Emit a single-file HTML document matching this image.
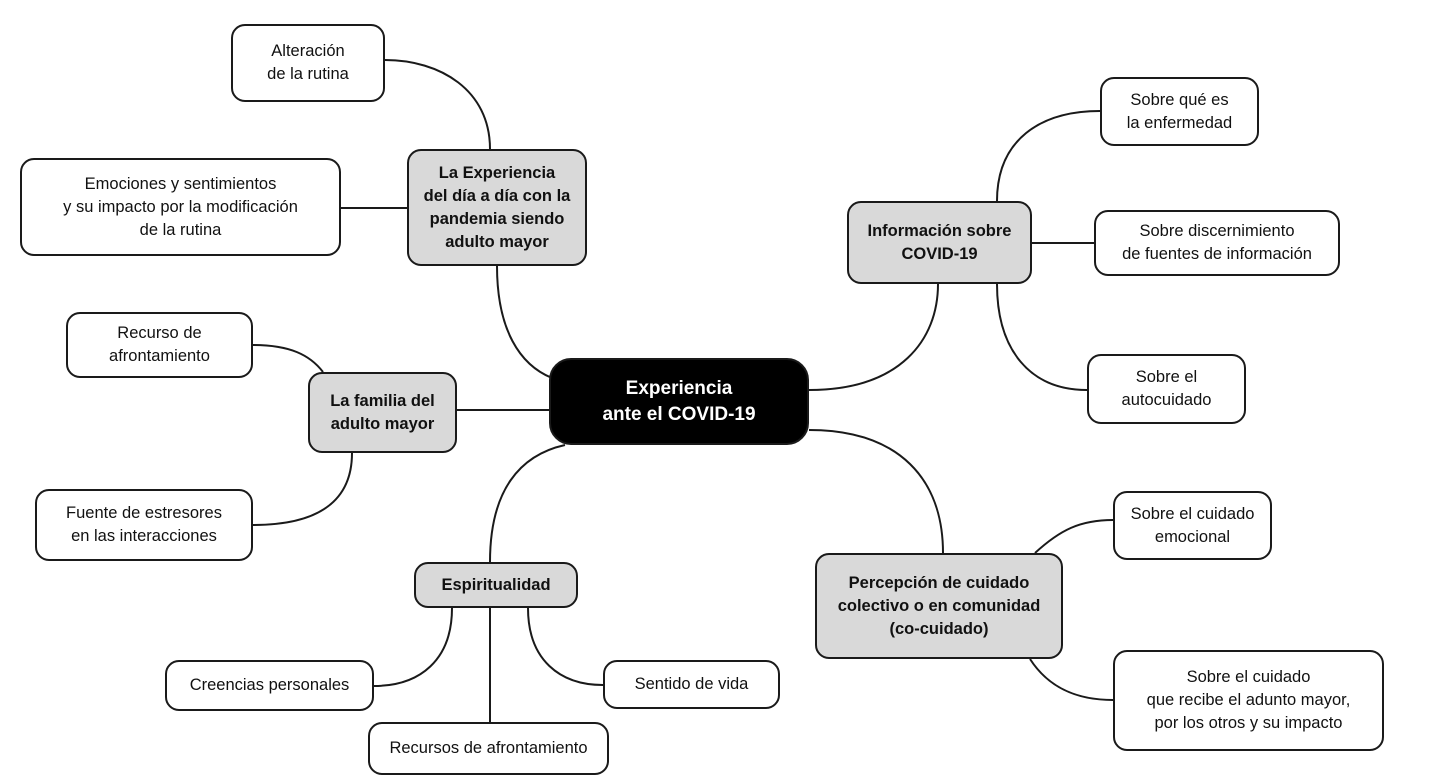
<!DOCTYPE html>
<html><head><meta charset="utf-8"><style>
html,body{margin:0;padding:0;background:#fff;}
body{width:1431px;height:783px;position:relative;overflow:hidden;font-family:"Liberation Sans",sans-serif;}
.b{position:absolute;box-sizing:border-box;border:2px solid #1a1a1a;border-radius:14px;background:#fff;display:flex;align-items:center;justify-content:center;text-align:center;font-size:16.5px;line-height:23px;color:#111;}
.g{background:#d9d9d9;font-weight:bold;}
.c{background:#000;color:#fff;font-weight:bold;font-size:19px;line-height:26px;border-radius:22px;}
svg{position:absolute;left:0;top:0;}
</style></head><body>
<svg width="1431" height="783" fill="none" stroke="#1a1a1a" stroke-width="2">
<path d="M490,149 C490,90 440,60 385,60"/>
<path d="M341,208 L407,208"/>
<path d="M497,266 C497,330 520,365 552,378"/>
<path d="M323,372 C310,355 290,345 253,345"/>
<path d="M457,410 L549,410"/>
<path d="M352,453 C352,500 320,525 253,525"/>
<path d="M565,445 C520,455 490,490 490,562"/>
<path d="M490,608 L490,722"/>
<path d="M452,608 C452,660 420,686 374,686"/>
<path d="M528,608 C528,660 560,685 603,685"/>
<path d="M809,390 C900,390 938,340 938,284"/>
<path d="M997,201 C997,140 1040,111 1100,111"/>
<path d="M1032,243 L1094,243"/>
<path d="M997,284 C997,350 1030,390 1087,390"/>
<path d="M809,430 C900,430 943,480 943,553"/>
<path d="M1035,553 C1060,530 1080,520 1113,520"/>
<path d="M1030,659 C1050,690 1080,700 1113,700"/>
</svg>
<div class="b" style="left:231px;top:24px;width:154px;height:78px">Alteración<br>de la rutina</div>
<div class="b" style="left:20px;top:158px;width:321px;height:98px">Emociones y sentimientos<br>y su impacto por la modificación<br>de la rutina</div>
<div class="b g" style="left:407px;top:149px;width:180px;height:117px">La Experiencia<br>del día a día con la<br>pandemia siendo<br>adulto mayor</div>
<div class="b" style="left:66px;top:312px;width:187px;height:66px">Recurso de<br>afrontamiento</div>
<div class="b g" style="left:308px;top:372px;width:149px;height:81px">La familia del<br>adulto mayor</div>
<div class="b" style="left:35px;top:489px;width:218px;height:72px">Fuente de estresores<br>en las interacciones</div>
<div class="b c" style="left:549px;top:358px;width:260px;height:87px">Experiencia<br>ante el COVID-19</div>
<div class="b g" style="left:414px;top:562px;width:164px;height:46px">Espiritualidad</div>
<div class="b" style="left:165px;top:660px;width:209px;height:51px">Creencias personales</div>
<div class="b" style="left:368px;top:722px;width:241px;height:53px">Recursos de afrontamiento</div>
<div class="b" style="left:603px;top:660px;width:177px;height:49px">Sentido de vida</div>
<div class="b g" style="left:847px;top:201px;width:185px;height:83px">Información sobre<br>COVID-19</div>
<div class="b" style="left:1100px;top:77px;width:159px;height:69px">Sobre qué es<br>la enfermedad</div>
<div class="b" style="left:1094px;top:210px;width:246px;height:66px">Sobre discernimiento<br>de fuentes de información</div>
<div class="b" style="left:1087px;top:354px;width:159px;height:70px">Sobre el<br>autocuidado</div>
<div class="b g" style="left:815px;top:553px;width:248px;height:106px">Percepción de cuidado<br>colectivo o en comunidad<br>(co-cuidado)</div>
<div class="b" style="left:1113px;top:491px;width:159px;height:69px">Sobre el cuidado<br>emocional</div>
<div class="b" style="left:1113px;top:650px;width:271px;height:101px">Sobre el cuidado<br>que recibe el adunto mayor,<br>por los otros y su impacto</div>
</body></html>
